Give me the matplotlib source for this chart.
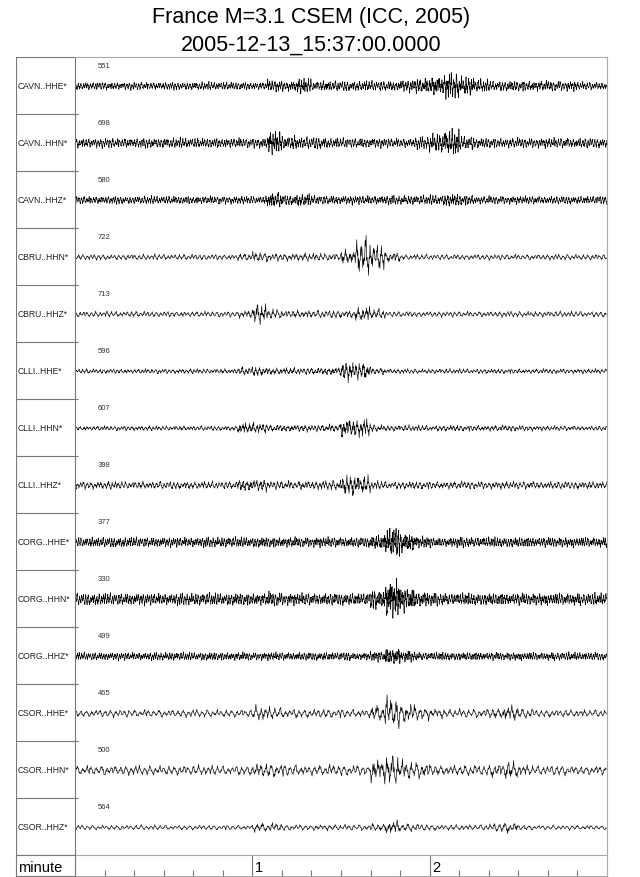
import numpy as np
import matplotlib.pyplot as plt

plt.rcParams['font.family'] = ['Liberation Sans', 'DejaVu Sans']

title_lines = ['France M=3.1 CSEM (ICC, 2005)', '2005-12-13_15:37:00.0000']
stations = ['CAVN..HHE*', 'CAVN..HHN*', 'CAVN..HHZ*', 'CBRU..HHN*', 'CBRU..HHZ*',
            'CLLI..HHE*', 'CLLI..HHN*', 'CLLI..HHZ*', 'CORG..HHE*', 'CORG..HHN*',
            'CORG..HHZ*', 'CSOR..HHE*', 'CSOR..HHN*', 'CSOR..HHZ*']
peak_counts = [551, 698, 580, 722, 713, 596, 607, 398, 377, 330, 499, 465, 500, 564]
samples_per_sec = [10, 10, 10, 6, 6, 7, 7, 7, 11, 11, 11, 5, 5, 5]

# half amplitude of each trace (pixels), one value per 5 s window, 0..180 s
env_cavn_hhe = [4, 4, 4, 4, 4, 4, 4, 4, 4, 4, 4, 4, 4, 6, 5, 7, 5, 5, 5, 5, 5, 5, 6, 7, 9, 11, 9, 6, 5, 5, 5, 5, 5, 5, 4, 4]
env_cavn_hhn = [5, 5, 5, 5, 5, 5, 5, 5, 5, 5, 5, 5, 5, 10, 7, 6, 6, 5, 5, 5, 5, 5, 5, 6, 9, 11, 7, 5, 5, 5, 5, 5, 5, 5, 5, 5]
env_cavn_hhz = [4, 4, 4, 4, 4, 4, 4, 4, 4, 4, 4, 4, 4, 7, 5, 6, 4.5, 4.5, 4.5, 4.5, 4.5, 4.5, 4.5, 4.5, 5, 6, 5, 4, 4, 4, 4, 4, 4, 4, 4, 4]
env_cbru_hhn = [3, 3, 3, 3, 3, 3, 3, 3, 3, 3, 3, 4, 5, 4, 4, 4, 4, 4, 7, 18, 12, 5, 3, 3, 3, 3, 3, 3, 3, 3, 3, 3, 3, 3, 3, 3]
env_cbru_hhz = [3, 3, 3, 3, 3, 3, 3, 3, 3, 3, 3, 4, 9, 5, 4, 4, 4, 4, 4, 7, 5, 3, 3, 3, 3, 3, 3, 3, 3, 3, 3, 3, 3, 3, 3, 3]
env_clli_hhe = [2.5, 2.5, 2.5, 2.5, 2.5, 2.5, 2.5, 2.5, 2.5, 2.5, 2.5, 4, 4.5, 3.5, 3.5, 3.5, 3.5, 4, 9, 8, 3.5, 2.5, 2.5, 2.5, 2.5, 2.5, 2.5, 2.5, 2.5, 2.5, 2.5, 2.5, 2.5, 2.5, 2.5, 2.5]
env_clli_hhn = [2.5, 2.5, 2.5, 2.5, 2.5, 2.5, 2.5, 2.5, 2.5, 2.5, 2.5, 5, 5, 3.5, 3.5, 3.5, 3.5, 4, 9, 8, 3.5, 3, 3, 3, 3, 3, 3, 3, 3, 3, 3, 2.5, 2.5, 2.5, 2.5, 2.5]
env_clli_hhz = [4, 4, 4, 4, 4, 4, 4, 4, 4, 4, 4, 6, 6, 4.5, 4.5, 4.5, 4.5, 5, 10, 8, 4.5, 4, 4, 4, 4, 4, 4, 4, 4, 4, 4, 4, 4, 4, 4, 4]
env_corg_hhe = [5, 5, 5, 5, 5, 5, 5, 5, 5, 5, 5, 5, 5, 5, 5, 5, 5, 5, 5, 5, 7, 13, 9, 6, 5, 5, 5, 5, 5, 5, 5, 5, 5, 5, 5, 5]
env_corg_hhn = [6, 6, 6, 6, 6, 6, 6, 6, 6, 6, 6, 6, 6, 7, 6, 6, 6, 6, 6, 6, 9, 18, 11, 8, 6, 6, 6, 6, 6, 6, 6, 6, 6, 6, 6, 6]
env_corg_hhz = [4, 4, 4, 4, 4, 4, 4, 4, 4, 4, 4, 4, 4, 4, 4, 4, 4, 4, 4, 4, 5, 8, 5, 4, 4, 4, 4, 4, 4, 4, 4, 4, 4, 4, 4, 4]
env_csor_hhe = [4, 4, 4, 4, 4, 4, 4, 4, 4, 4, 4, 4, 7, 6, 5, 4.5, 4.5, 4.5, 4.5, 4.5, 8, 14, 9, 7, 5, 4.5, 4.5, 4.5, 6, 8, 5, 4, 4, 4, 4, 4]
env_csor_hhn = [5, 5, 5, 5, 5, 5, 5, 5, 5, 5, 5, 5, 7, 7, 6, 5.5, 5.5, 5.5, 5.5, 5.5, 11, 15, 9, 8, 6, 5.5, 5.5, 5.5, 7, 9, 6, 5, 5, 5, 5, 5]
env_csor_hhz = [2.5, 2.5, 2.5, 2.5, 2.5, 2.5, 2.5, 2.5, 2.5, 2.5, 2.5, 2.5, 4.5, 4, 3, 3, 3, 3, 3, 3, 4, 7, 4, 3.5, 3, 3, 3, 3, 4, 5, 3, 2.5, 2.5, 2.5, 2.5, 2.5]

envelopes = [env_cavn_hhe, env_cavn_hhn, env_cavn_hhz, env_cbru_hhn, env_cbru_hhz,
             env_clli_hhe, env_clli_hhn, env_clli_hhz, env_corg_hhe, env_corg_hhn,
             env_corg_hhz, env_csor_hhe, env_csor_hhn, env_csor_hhz]

# wiggle shapes (typed in): smooth part, zigzag part and a slow gain
wiggle_low = [0.1, 0.6, 0.9, 0.7, 0.2, -0.4, -0.8, -0.9, -0.5, 0.0, 0.5, 0.8, 0.6, 0.1,
              -0.3, -0.7, -0.6, -0.2, 0.3, 0.7, 1.0, 0.8, 0.3, -0.2, -0.6, -1.0, -0.8,
              -0.3, 0.2, 0.5, 0.4, 0.0, -0.4, -0.5, -0.2, 0.3, 0.8, 0.9, 0.4, -0.2, -0.6]
wiggle_high = [0.5, -0.6, 0.8, -0.3, 0.2, -0.9, 0.6, -0.4, 0.9, -0.7, 0.3, -0.2, 0.7,
               -0.8, 0.4, -0.5, 1.0, -0.6, 0.2, -0.4, 0.6, -1.0, 0.3]
wiggle_gain = [0.9, 1.15, 0.8, 1.05, 1.25, 0.75, 1.0, 1.15, 0.85, 1.1, 0.75, 1.2, 1.05,
               0.8, 1.15, 0.95, 0.7, 1.1, 1.25]

minute_labels = ['1', '2']
duration = 180.0
window = 5.0

W, H = 640, 878
fig = plt.figure(figsize=(W / 100, H / 100), dpi=100)

x0, x1 = 75, 607      # trace area in pixels
xl = 16               # left edge of label column
y_top, y_bot, y_min_bot = 57.5, 856, 877
n = len(stations)
row_px = (y_bot - y_top) / n
grey = '#777777'

ax = fig.add_axes([x0 / W, (H - y_bot) / H, (x1 - x0) / W, (y_bot - y_top) / H])
ax.set_xlim(0, duration)
ax.set_ylim(n, 0)
ax.set_xticks([])
ax.set_yticks(np.arange(1, n))
ax.tick_params(axis='y', direction='in', length=2, color=grey, labelleft=False)
for s in ax.spines.values():
    s.set_color('#aaaaaa')
    s.set_linewidth(0.8)
ax.spines['left'].set_color(grey)

low = np.array(wiggle_low)
high = np.array(wiggle_high)
gain = np.array(wiggle_gain)
for i in range(n):
    sps = samples_per_sec[i]
    npts = int(duration * sps)
    t = np.arange(npts) / sps
    idx = np.arange(npts) + i * 97
    env = np.array(envelopes[i], dtype=float)
    e = env[np.minimum((t // window).astype(int), len(env) - 1)]
    burst = np.clip(e / env.min() - 1.0, 0, 1)
    wig = 0.7 * low[idx % len(low)] + (0.35 + 0.15 * burst) * high[idx % len(high)]
    wig = wig * gain[(idx // 4) % len(gain)]
    y = i + 0.52 - e * wig / row_px
    ax.plot(t, y, color='black', lw=0.45)
    ax.text(7.8, i + 0.15, str(peak_counts[i]), fontsize=5.5, color='#333333', va='center', ha='left')

# station label column
lab = fig.add_axes([xl / W, (H - y_bot) / H, (x0 - xl) / W, (y_bot - y_top) / H])
lab.set_xlim(0, 1)
lab.set_ylim(n, 0)
lab.axis('off')
for i in range(n):
    lab.text(0.03, i + 0.5, stations[i], fontsize=6.2, va='center', ha='left', color='#222222')
for k in range(n + 1):
    lab.axhline(k, color=grey, lw=0.8)
lab.axvline(0, color=grey, lw=0.8)

# minute axis row
mx = fig.add_axes([x0 / W, (H - y_min_bot) / H, (x1 - x0) / W, (y_min_bot - y_bot) / H])
mx.set_xlim(0, duration)
mx.set_ylim(0, 1)
mx.set_yticks([])
mx.set_xticks(np.arange(10, duration, 10))
mx.tick_params(axis='x', direction='in', length=4, color=grey, labelbottom=False)
for s in mx.spines.values():
    s.set_color('#aaaaaa')
    s.set_linewidth(0.8)
mx.spines['left'].set_color(grey)
for k, txt in enumerate(minute_labels):
    m = 60 * (k + 1)
    mx.axvline(m, color=grey, lw=0.8)
    mx.text(m + 0.8, 0.45, txt, fontsize=10.5, va='center', ha='left')

mlab = fig.add_axes([xl / W, (H - y_min_bot) / H, (x0 - xl) / W, (y_min_bot - y_bot) / H])
mlab.set_xticks([])
mlab.set_yticks([])
for s in mlab.spines.values():
    s.set_color(grey)
    s.set_linewidth(0.8)
mlab.text(0.03, 0.45, 'minute', fontsize=10.5, va='center', ha='left', transform=mlab.transAxes)

cx = ((xl + x1) / 2) / W
fig.text(cx, 1 - 18 / H, title_lines[0], fontsize=15.5, ha='center', va='center')
fig.text(cx, 1 - 45 / H, title_lines[1], fontsize=15.5, ha='center', va='center')

fig.savefig('out.png', dpi=100)
